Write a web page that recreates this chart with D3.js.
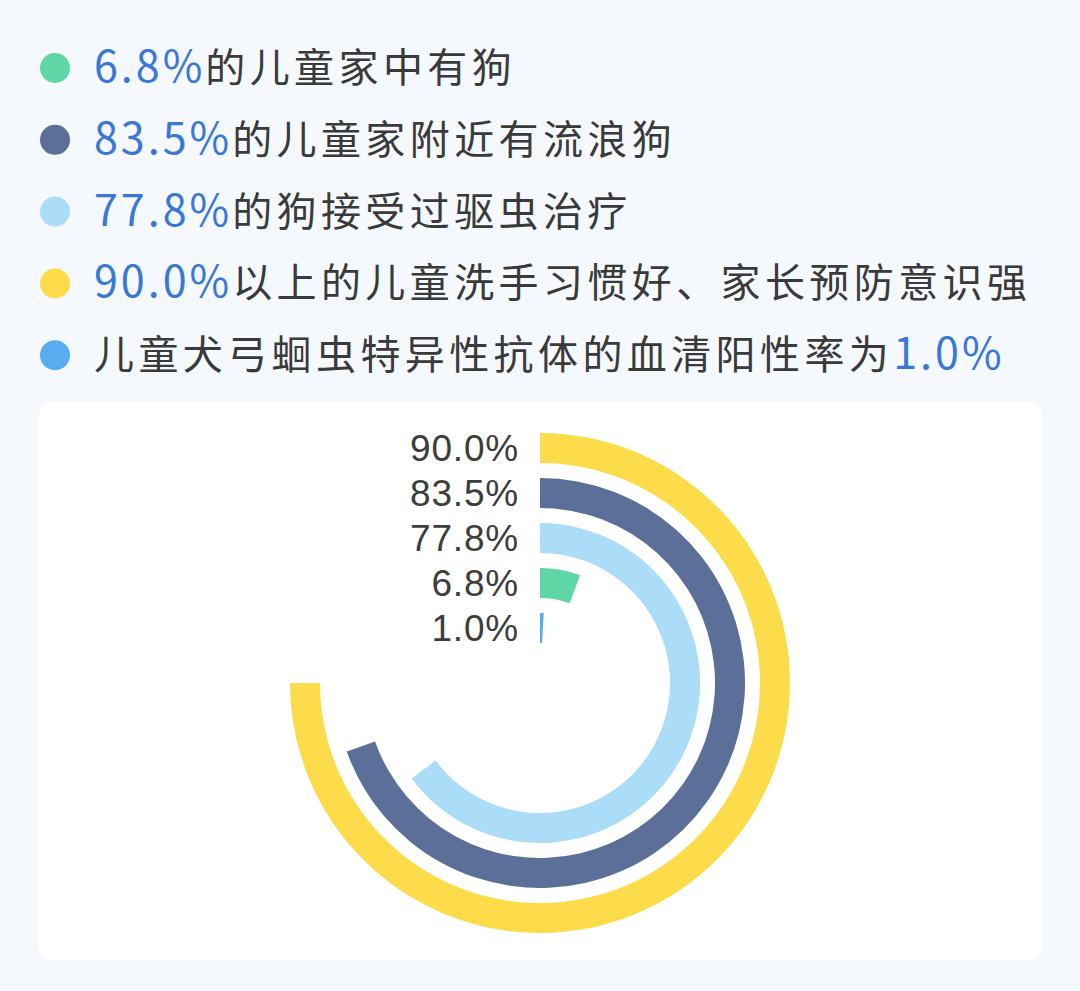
<!DOCTYPE html>
<html><head><meta charset="utf-8">
<script src="https://cdn.jsdelivr.net/npm/d3@7"></script>
<style>
html,body{margin:0;padding:0;background:#f5f8fc;}
svg{display:block;}
</style></head>
<body>
<svg id="c" width="1080" height="991"></svg>
<script>
// ---- data ----
const categories = ["6.8%的儿童家中有狗","83.5%的儿童家附近有流浪狗","77.8%的狗接受过驱虫治疗","90.0%以上的儿童洗手习惯好、家长预防意识强","儿童犬弓蛔虫特异性抗体的血清阳性率为1.0%"];
const legendPct = ["6.8%","83.5%","77.8%","90.0%","1.0%"];
const legendText = ["的儿童家中有狗","的儿童家附近有流浪狗","的狗接受过驱虫治疗","以上的儿童洗手习惯好、家长预防意识强","儿童犬弓蛔虫特异性抗体的血清阳性率为"];
const legendPctFirst = [true,true,true,true,false];
const seriesValues = [6.8, 83.5, 77.8, 90.0, 1.0];
const ringOrder = [3, 1, 2, 0, 4]; // outer to inner: 90.0, 83.5, 77.8, 6.8, 1.0
const ringLabels = ["90.0%","83.5%","77.8%","6.8%","1.0%"];
const colors = ["#5fd6a6","#5b6f98","#abdcf8","#fddc4b","#5aacf0"];

const svg = d3.select("#c");
svg.append("rect").attr("width",1080).attr("height",991).attr("fill","#f5f8fc");

// ---- legend ----
const lg = svg.append("g");
categories.forEach((c,i)=>{
  const y = 68 + i*71.8;
  lg.append("circle").attr("cx",55).attr("cy",y).attr("r",15).attr("fill",colors[i]);
  const t = lg.append("text").attr("x",94).attr("y",y+14)
    .attr("font-family","'Noto Sans CJK SC','Noto Sans',sans-serif")
    .attr("font-size",40).attr("letter-spacing","4.4px");
  const pct = () => t.append("tspan").attr("fill","#3a78d8").attr("font-size",43).attr("letter-spacing","3px").text(legendPct[i]);
  const txt = () => t.append("tspan").attr("fill","#3a3a3a").text(legendText[i]);
  if (legendPctFirst[i]) { pct(); txt(); } else { txt(); pct(); }
});

// ---- card ----
svg.append("rect").attr("x",38).attr("y",402).attr("width",1005).attr("height",558)
  .attr("rx",16).attr("fill","#ffffff");

// ---- radial bars ----
const cx = 540, cy = 683;
const angle = d3.scaleLinear().domain([0,100]).range([0, 300*Math.PI/180]);
const radius = d3.scaleBand().domain(ringOrder.slice().reverse()).range([40,250]).paddingInner(1/3).paddingOuter(0);
const arc = d3.arc();
const g = svg.append("g").attr("transform",`translate(${cx},${cy})`);
ringOrder.forEach((idx,k)=>{
  const r0 = radius(idx), r1 = r0 + radius.bandwidth();
  g.append("path").attr("d", arc({innerRadius:r0, outerRadius:r1, startAngle:0, endAngle:angle(seriesValues[idx])}))
    .attr("fill", colors[idx]);
  g.append("text").attr("x",-21).attr("y",-(r0+r1)/2)
    .attr("dy","0.36em").attr("text-anchor","end")
    .attr("font-family","'Liberation Sans',Arial,sans-serif")
    .attr("font-size",37).attr("fill","#3d3d3d").attr("letter-spacing","0.8px")
    .text(ringLabels[k]);
});
</script>
</body></html>
